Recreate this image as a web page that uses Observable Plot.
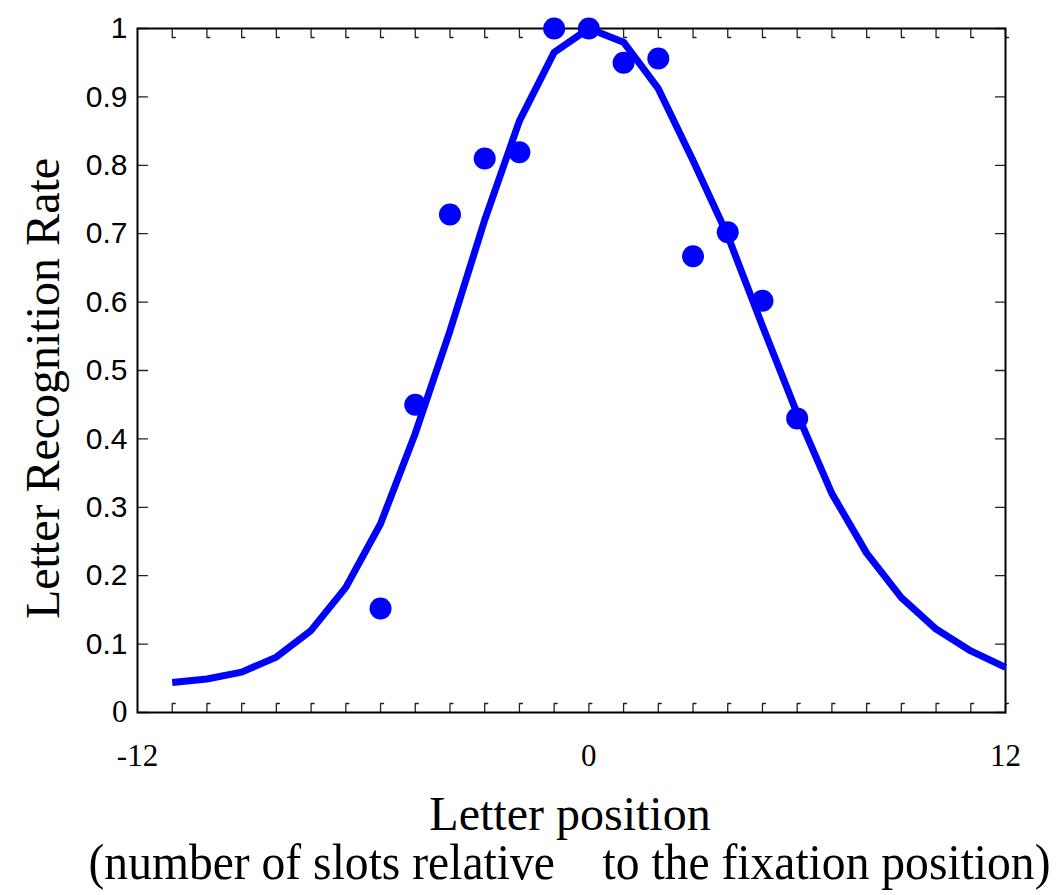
<!DOCTYPE html>
<html>
<head>
<meta charset="utf-8">
<script src="https://cdn.jsdelivr.net/npm/d3@7"></script>
<script src="https://cdn.jsdelivr.net/npm/@observablehq/plot@0.6"></script>
<style>
  body { margin: 0; background: #fff; }
</style>
</head>
<body>
<div id="chart"></div>
<script>
// ---- data ----
const pointX = [-6, -5, -4, -3, -2, -1, 0, 1, 2, 3, 4, 5, 6];
const pointY = [0.152, 0.45, 0.728, 0.81, 0.819, 1.0, 1.0, 0.95, 0.956, 0.667, 0.702, 0.602, 0.43];

const curveX = [-12, -11, -10, -9, -8, -7, -6, -5, -4, -3, -2, -1, 0, 1, 2, 3, 4, 5, 6, 7, 8, 9, 10, 11, 12];
const curveY = [0.044, 0.049, 0.059, 0.081, 0.12, 0.183, 0.276, 0.408, 0.558, 0.72, 0.865, 0.965, 1.0, 0.98, 0.912, 0.807, 0.697, 0.565, 0.437, 0.32, 0.233, 0.168, 0.122, 0.09, 0.066];

const xDomain = [-13, 12];
const xMinorTicks = [-12, -11, -10, -9, -8, -7, -6, -5, -4, -3, -2, -1, 0, 1, 2, 3, 4, 5, 6, 7, 8, 9, 10, 11, 12];
const xLabelValues = [-13, 0, 12];
const xLabelText = ["-12", "0", "12"];
const yTicks = [0, 0.1, 0.2, 0.3, 0.4, 0.5, 0.6, 0.7, 0.8, 0.9, 1];
const ySansLabels = [0.1, 0.2, 0.3, 0.4, 0.5, 0.6, 0.7, 0.8, 0.9, 1];
const ySerifLabels = [0];

const xTitle = "Letter position";
const xSubtitle = "(number of slots relative\u00a0\u00a0\u00a0 to the fixation position)";
const yTitle = "Letter Recognition Rate";

// ---- build ----
const points = pointX.map((x, i) => ({x, y: pointY[i]}));
const curve = curveX.map((x, i) => ({x, y: curveY[i]}));
const xLabelMap = new Map(xLabelValues.map((v, i) => [v, xLabelText[i]]));

const serif = "'Liberation Serif', 'Times New Roman', serif";
const sans = "'Liberation Sans', Arial, sans-serif";
const blue = "#0000ff";

const tickShape = (foot) => ({
  draw(context, l) {
    context.moveTo(0, 0);
    context.lineTo(0, -l);
    if (foot) context.lineTo(foot, -l);
  }
});

const chart = Plot.plot({
  width: 1061,
  height: 895,
  marginLeft: 137,
  marginRight: 56,
  marginTop: 28,
  marginBottom: 183,
  x: {domain: xDomain},
  y: {domain: [0, 1]},
  style: {background: "white", color: "black"},
  marks: [
    // minor ticks, pointing inward, with tiny feet
    Plot.vector(xMinorTicks, {x: d => d, y: 1, length: 9, rotate: 180, anchor: "start", shape: tickShape(-3), stroke: "#222", strokeWidth: 1.3}),
    Plot.vector(xMinorTicks, {x: d => d, y: 0, length: 9, rotate: 0, anchor: "start", shape: tickShape(3), stroke: "#222", strokeWidth: 1.3}),
    Plot.vector(yTicks, {x: xDomain[0], y: d => d, length: 10, rotate: 90, anchor: "start", shape: tickShape(0), stroke: "#222", strokeWidth: 1.3}),
    Plot.vector(yTicks, {x: xDomain[1], y: d => d, length: 10, rotate: -90, anchor: "start", shape: tickShape(0), stroke: "#222", strokeWidth: 1.3}),
    // tick labels
    Plot.axisX(xLabelValues, {anchor: "bottom", tickSize: 0, tickPadding: 31, tickFormat: d => xLabelMap.get(d), fontSize: 31, fontFamily: serif, label: null}),
    Plot.axisY(ySansLabels, {anchor: "left", tickSize: 0, tickPadding: 10, tickFormat: d => String(d), fontSize: 30, fontFamily: sans, label: null}),
    Plot.axisY(ySerifLabels, {anchor: "left", tickSize: 0, tickPadding: 10, tickFormat: d => String(d), fontSize: 31, fontFamily: serif, label: null}),
    // titles
    Plot.text([xTitle], {text: d => d, frameAnchor: "bottom", textAnchor: "middle", dx: -1.5, dy: 117, lineAnchor: "bottom", fontSize: 48, fontFamily: serif}),
    Plot.text([xSubtitle], {text: d => d, frameAnchor: "bottom", textAnchor: "middle", dx: -2, dy: 166, lineAnchor: "bottom", fontSize: 50, fontFamily: serif}),
    Plot.text([yTitle], {text: d => d, frameAnchor: "left", textAnchor: "middle", rotate: -90, dx: -79, dy: 18, lineAnchor: "bottom", fontSize: 48, fontFamily: serif}),
    // data
    Plot.frame({stroke: "black", strokeWidth: 2}),
    Plot.dot(points, {x: "x", y: "y", r: 11, fill: blue, stroke: "none"}),
    Plot.line(curve, {x: "x", y: "y", stroke: blue, strokeWidth: 7, strokeLinecap: "butt", strokeLinejoin: "round"})
  ]
});

document.getElementById("chart").appendChild(chart);

// compress the second title line to its measured span
d3.select(chart).selectAll("text")
  .filter(function () { return this.textContent === xSubtitle; })
  .attr("textLength", 962)
  .attr("lengthAdjust", "spacingAndGlyphs");
</script>
</body>
</html>
